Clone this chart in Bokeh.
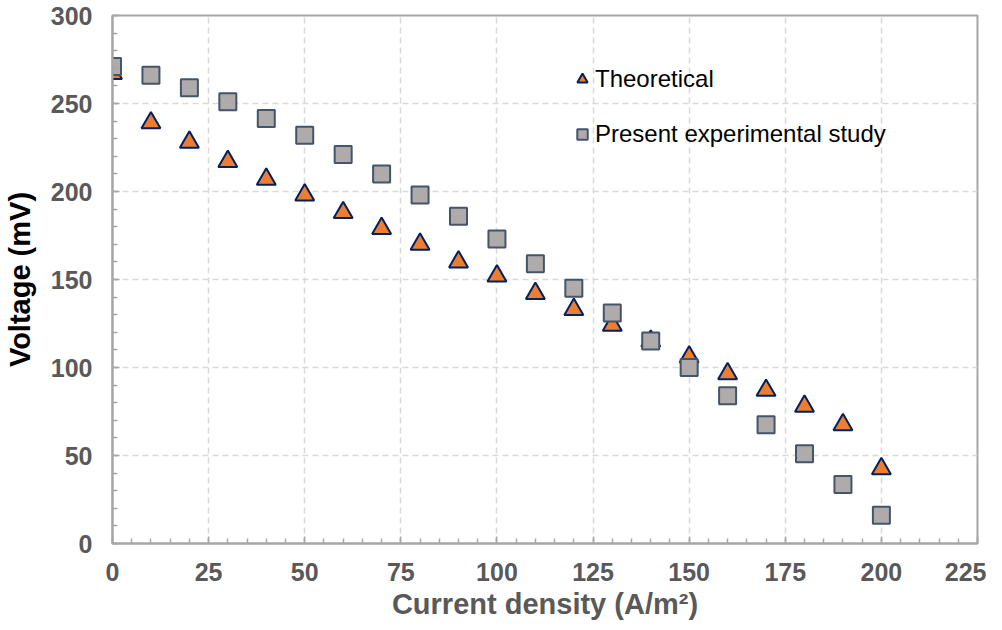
from bokeh.plotting import figure
from bokeh.models import ColumnDataSource, Range1d, FixedTicker, Legend, LegendItem
from bokeh.embed import file_html
from bokeh.resources import INLINE

current = [0, 10, 20, 30, 40, 50, 60, 70, 80, 90, 100, 110, 120, 130, 140, 150, 160, 170, 180, 190, 200]
theoretical = [267, 239, 228, 217, 207, 198, 188, 179, 170, 160, 152, 142, 133, 124, 115, 106, 96.5, 87, 78, 67.5, 42.5]
experimental = [271, 266, 259, 251, 241.5, 232, 221, 210, 198, 186, 173, 159, 145, 131, 115, 100, 84, 67.5, 51, 33.5, 16]

x_ticks = [0, 25, 50, 75, 100, 125, 150, 175, 200, 225]
y_ticks = [0, 50, 100, 150, 200, 250, 300]

src = ColumnDataSource(dict(x=current, t=theoretical, e=experimental))

p = figure(width=986, height=622, output_backend="svg", toolbar_location=None,
           x_range=Range1d(0, 225), y_range=Range1d(0, 300),
           min_border_left=110, min_border_right=9, min_border_top=15, min_border_bottom=78)

p.outline_line_color = "#A6A6A6"
p.outline_line_width = 2

for ax in (p.xaxis[0], p.yaxis[0]):
    ax.axis_line_color = "#A6A6A6"
    ax.axis_line_width = 2
    ax.major_tick_in = 7
    ax.major_tick_out = 0
    ax.minor_tick_in = 5
    ax.minor_tick_out = 0
    ax.major_tick_line_color = "#A6A6A6"
    ax.minor_tick_line_color = "#A6A6A6"
    ax.major_tick_line_width = 1.5
    ax.minor_tick_line_width = 1.5
    ax.major_label_text_font = "Liberation Sans"
    ax.major_label_text_font_style = "bold"
    ax.major_label_text_font_size = "25px"
    ax.major_label_text_color = "#595959"
    ax.axis_label_text_font = "Liberation Sans"
    ax.axis_label_text_font_style = "bold"
    ax.axis_label_text_font_size = "29px"

p.xaxis[0].ticker = FixedTicker(ticks=x_ticks, minor_ticks=list(range(0, 226, 5)))
p.yaxis[0].ticker = FixedTicker(ticks=y_ticks, minor_ticks=list(range(0, 301, 10)))
p.xaxis[0].major_label_standoff = 19
p.yaxis[0].major_label_standoff = 20
p.xaxis[0].axis_label = "Current density (A/m²)"
p.xaxis[0].axis_label_text_color = "#595959"
p.xaxis[0].axis_label_standoff = 4
p.yaxis[0].axis_label = "Voltage (mV)"
p.yaxis[0].axis_label_text_color = "#000000"
p.yaxis[0].axis_label_standoff = 12

for g in (p.xgrid[0], p.ygrid[0]):
    g.grid_line_color = "#D9D9D9"
    g.grid_line_width = 1.5
    g.grid_line_dash = "6 4"

r1 = p.scatter("x", "t", source=src, marker="triangle", size=19,
               fill_color="#ED7D31", line_color="#002060", line_width=2)
r2 = p.scatter("x", "e", source=src, marker="square", size=17,
               fill_color="#AFABAB", line_color="#44546A", line_width=2)

legend = Legend(items=[LegendItem(label="Theoretical", renderers=[r1]),
                       LegendItem(label="Present experimental study", renderers=[r2])],
                location=(452, 389), spacing=25, padding=5, glyph_width=26, glyph_height=30,
                label_standoff=0, background_fill_alpha=0, border_line_alpha=0,
                label_text_font="Liberation Sans", label_text_font_size="24px",
                label_text_color="#000000")
p.add_layout(legend)

open("out.html", "w").write(file_html(p, INLINE))
